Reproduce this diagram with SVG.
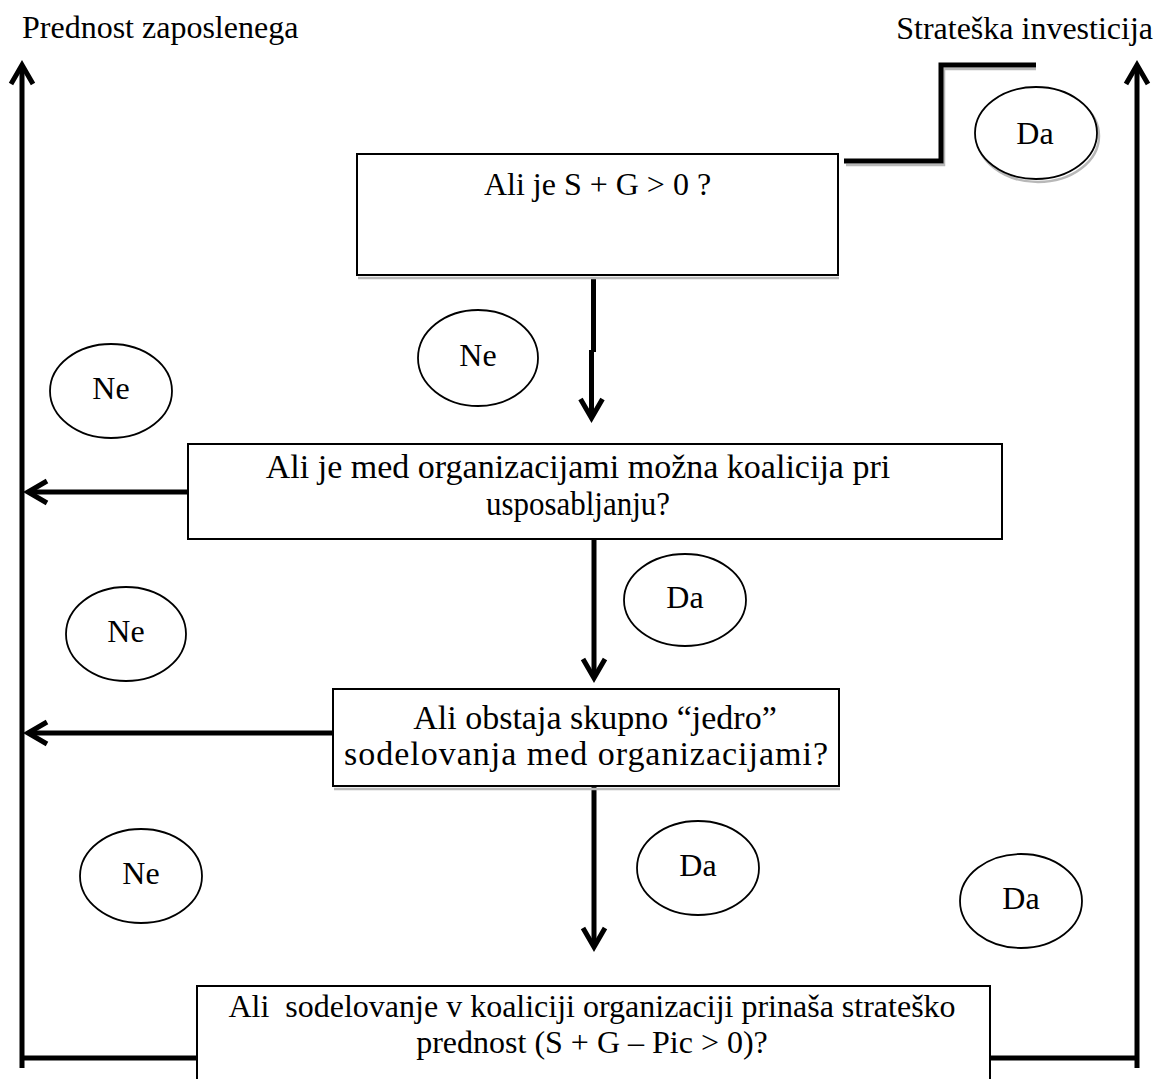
<svg xmlns="http://www.w3.org/2000/svg" width="1159" height="1079" viewBox="0 0 1159 1079">
  <style>
    text { font-family: "Liberation Serif", "Times New Roman", serif; fill: #000; }
    .t32 { font-size: 32px; }
    .t34 { font-size: 34px; }
    .mid { text-anchor: middle; }
    .box { fill: #fff; stroke: #000; stroke-width: 2; }
    .oval { fill: #fff; stroke: #000; stroke-width: 1.8; }
    .shade { fill: none; stroke: #b8b8b8; stroke-width: 2.5; }
    .wire { fill: none; stroke: #000; stroke-width: 5; }
    .arrow { fill: none; stroke: #000; stroke-width: 5; marker-end: url(#chev); }
  </style>
  <defs>
    <!-- open chevron head; vertex sits on the line end -->
    <marker id="chev" markerUnits="userSpaceOnUse" markerWidth="50" markerHeight="50" viewBox="-25 -25 50 50" refX="0" refY="0" orient="auto" overflow="visible">
      <path d="M-19,-11 L0,0 L-19,11" fill="none" stroke="#000" stroke-width="5" stroke-linejoin="miter" stroke-miterlimit="10"/>
    </marker>
  </defs>
  <rect width="1159" height="1079" fill="#fff"/>

  <!-- outcome headings -->
  <g id="outcome-employee">
    <text class="t32" x="22" y="38">Prednost zaposlenega</text>
  </g>
  <g id="outcome-strategic">
    <text class="t32" x="1153" y="39" text-anchor="end">Strateška investicija</text>
  </g>

  <!-- connectors -->
  <g id="connectors">
    <!-- soft shadow of the yes-branch step line -->
    <path class="shade" d="M846,165 H944 V69 H1036"/>
    <path class="wire" d="M844,161 H941 V65 H1036"/>
    <!-- side rails to the two outcomes -->
    <path class="arrow" d="M22,1068 V65"/>
    <path class="arrow" d="M1137,1068 V65"/>
    <path class="wire" d="M22,1058 H198"/>
    <path class="wire" d="M989,1058 H1137"/>
    <!-- main flow down -->
    <path class="wire" d="M593.5,278 V352"/>
    <path class="arrow" d="M591.5,350 V418"/>
    <path class="arrow" d="M594,539 V678"/>
    <path class="arrow" d="M594,786 V947"/>
    <!-- "Ne" branches to the left rail -->
    <path class="arrow" d="M198,492 H28"/>
    <path class="arrow" d="M336,733 H28"/>
  </g>

  <!-- decision boxes -->
  <g id="q1">
    <line class="shade" x1="358" y1="278" x2="839" y2="278"/>
    <rect class="box" x="357" y="154" width="481" height="121"/>
    <text class="t32 mid" x="597.5" y="195">Ali je S + G &gt; 0 ?</text>
  </g>
  <g id="q2">
    <rect class="box" x="188" y="444" width="814" height="95"/>
    <text class="t34 mid" x="578" y="478">Ali je med organizacijami možna koalicija pri</text>
    <text class="t34 mid" x="578" y="515" textLength="184" lengthAdjust="spacingAndGlyphs">usposabljanju?</text>
  </g>
  <g id="q3">
    <line class="shade" x1="334" y1="789" x2="840" y2="789"/>
    <rect class="box" x="333" y="689" width="506" height="97"/>
    <text class="t34 mid" x="595" y="729">Ali obstaja skupno “jedro”</text>
    <text class="t34 mid" x="586" y="765" textLength="484" lengthAdjust="spacing">sodelovanja med organizacijami?</text>
  </g>
  <g id="q4">
    <rect class="box" x="197" y="986" width="793" height="120"/>
    <text class="t32 mid" x="592" y="1017" xml:space="preserve">Ali  sodelovanje v koaliciji organizaciji prinaša strateško</text>
    <text class="t32 mid" x="592" y="1053">prednost (S + G – Pic &gt; 0)?</text>
  </g>

  <!-- yes / no labels -->
  <g id="yes-top">
    <ellipse class="shade" cx="1038" cy="136" rx="61" ry="46"/>
    <ellipse class="oval" cx="1036" cy="133" rx="61" ry="46"/>
    <text class="t32 mid" x="1035" y="144">Da</text>
  </g>
  <g id="no-q1">
    <ellipse class="oval" cx="478" cy="358" rx="60" ry="48"/>
    <text class="t32 mid" x="478" y="366">Ne</text>
  </g>
  <g id="no-q2">
    <ellipse class="oval" cx="111" cy="391" rx="61" ry="47"/>
    <text class="t32 mid" x="111" y="399">Ne</text>
  </g>
  <g id="yes-q2">
    <ellipse class="oval" cx="685" cy="600" rx="61" ry="46"/>
    <text class="t32 mid" x="685" y="608">Da</text>
  </g>
  <g id="no-q3">
    <ellipse class="oval" cx="126" cy="634" rx="60" ry="47"/>
    <text class="t32 mid" x="126" y="642">Ne</text>
  </g>
  <g id="no-q3b">
    <ellipse class="oval" cx="141" cy="876" rx="61" ry="47"/>
    <text class="t32 mid" x="141" y="884">Ne</text>
  </g>
  <g id="yes-q3">
    <ellipse class="oval" cx="698" cy="868" rx="61" ry="47"/>
    <text class="t32 mid" x="698" y="876">Da</text>
  </g>
  <g id="yes-q4">
    <ellipse class="oval" cx="1021" cy="901" rx="61" ry="47"/>
    <text class="t32 mid" x="1021" y="909">Da</text>
  </g>
</svg>
